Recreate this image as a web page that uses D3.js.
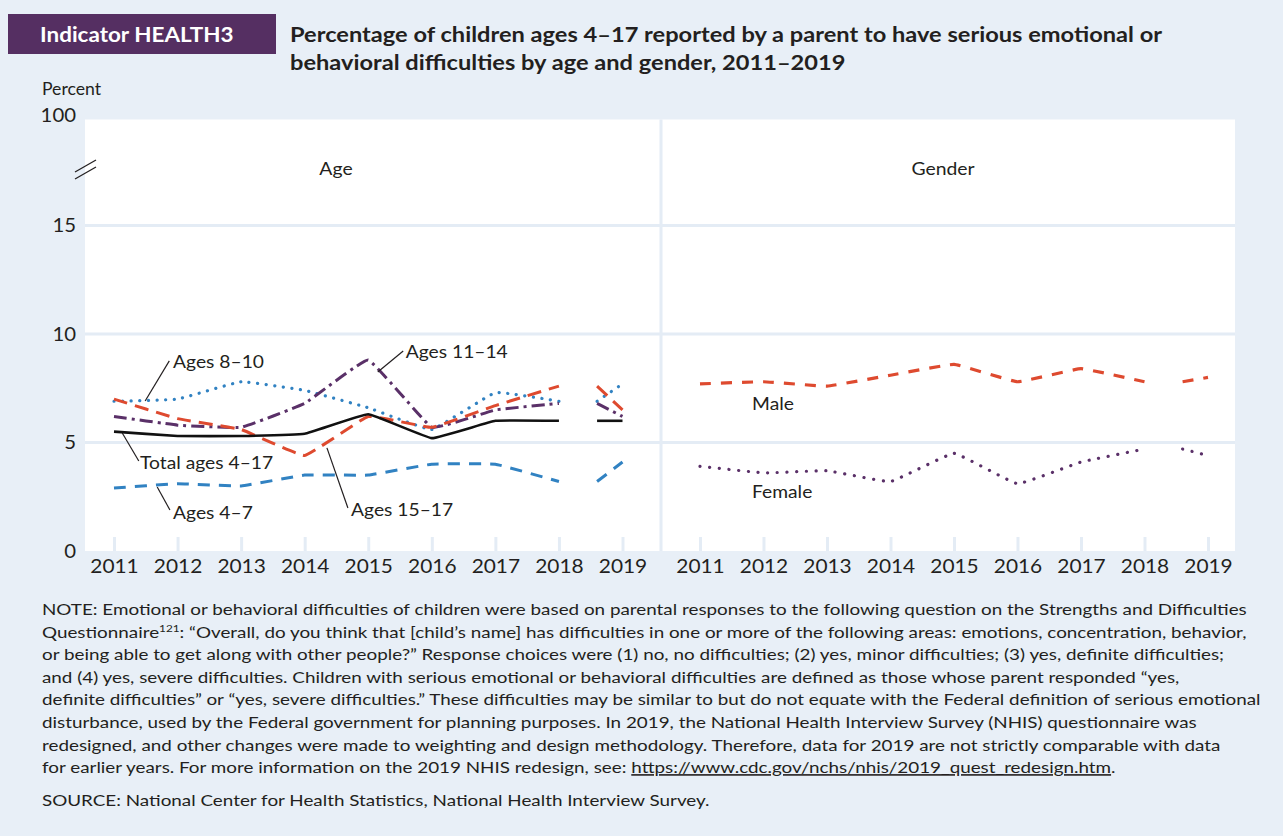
<!DOCTYPE html>
<html>
<head>
<meta charset="utf-8">
<script src="https://cdn.jsdelivr.net/npm/d3@7"></script>
<style>
  html, body { margin: 0; padding: 0; background: #e8eff7; }
  svg { display: block; font-family: Lato, "Open Sans", sans-serif; }
</style>
</head>
<body>
<svg id="chart" width="1283" height="836"></svg>
<script>
// ---------- DATA ----------
const years = [2011, 2012, 2013, 2014, 2015, 2016, 2017, 2018, 2019];
const yTicks = [0, 5, 10, 15, 100];
const gridValues = [5, 10, 15];

const totalAges4to17 = [5.5, 5.3, 5.3, 5.4, 6.3, 5.2, 6.0, 6.0, 6.0];
const ages4to7       = [2.9, 3.1, 3.0, 3.5, 3.5, 4.0, 4.0, 3.2, 4.1];
const ages8to10      = [6.9, 7.0, 7.8, 7.4, 6.6, 5.6, 7.3, 6.9, 7.7];
const ages11to14     = [6.2, 5.8, 5.7, 6.8, 8.8, 5.7, 6.5, 6.8, 6.2];
const ages15to17     = [7.0, 6.1, 5.6, 4.4, 6.2, 5.7, 6.7, 7.6, 6.5];
const male           = [7.7, 7.8, 7.6, 8.1, 8.6, 7.8, 8.4, 7.8, 8.0];
const female         = [3.9, 3.6, 3.7, 3.2, 4.5, 3.1, 4.1, 4.7, 4.4];

// year where the broken 2019 segment restarts (survey redesign gap)
const redesignBreak = 2018.6;

const noteLines = [
  "NOTE: Emotional or behavioral difficulties of children were based on parental responses to the following question on the Strengths and Difficulties",
  null, // line with superscript (built below)
  "or being able to get along with other people?\u201D Response choices were (1) no, no difficulties; (2) yes, minor difficulties; (3) yes, definite difficulties;",
  "and (4) yes, severe difficulties. Children with serious emotional or behavioral difficulties are defined as those whose parent responded \u201Cyes,",
  "definite difficulties\u201D or \u201Cyes, severe difficulties.\u201D These difficulties may be similar to but do not equate with the Federal definition of serious emotional",
  "disturbance, used by the Federal government for planning purposes. In 2019, the National Health Interview Survey (NHIS) questionnaire was",
  "redesigned, and other changes were made to weighting and design methodology. Therefore, data for 2019 are not strictly comparable with data",
  null  // line with URL
];
const sourceLine = "SOURCE: National Center for Health Statistics, National Health Interview Survey.";

// ---------- STYLE ----------
const C = {
  bg: "#e8eff7", grid: "#e4ecf5", text: "#231f20",
  red: "#de4a2f", blue: "#3182c2", purple: "#5a3068", black: "#111111",
  header: "#552f62"
};
const WIDE = 1.14;
function widen(sel, k) {
  sel.each(function () {
    const el = d3.select(this);
    const x = +el.attr("x") || 0;
    el.attr("transform", `translate(${x},0) scale(${k},1) translate(${-x},0)`);
  });
}

const svg = d3.select("#chart");
svg.append("rect").attr("width", 1283).attr("height", 836).attr("fill", C.bg);

// header
svg.append("rect").attr("x", 8).attr("y", 14).attr("width", 268).attr("height", 40).attr("fill", C.header);
svg.append("text").attr("x", 40).attr("y", 42).attr("fill", "#fff")
  .attr("font-size", 21).attr("font-weight", 700).text("Indicator HEALTH3")
  .call(widen, 1.07);
const title = svg.append("text").attr("x", 290).attr("font-size", 21).attr("font-weight", 700).attr("fill", C.text);
title.append("tspan").attr("x", 290).attr("y", 42)
  .text("Percentage of children ages 4\u201317 reported by a parent to have serious emotional or");
title.append("tspan").attr("x", 290).attr("y", 70)
  .text("behavioral difficulties by age and gender, 2011\u20132019");
title.call(widen, 1.125);

// ---------- SCALES ----------
const plotTop = 119.5, plotBottom = 551, plotLeft = 85, plotRight = 1235, sepX = 661;
const y = d3.scaleLinear().domain([0, 15, 100]).range([plotBottom, 225.5, plotTop]);
const xLeft = d3.scaleLinear().domain([2011, 2019]).range([114, 622.5]);
const xRight = d3.scaleLinear().domain([2011, 2019]).range([700, 1208]);

svg.append("rect").attr("x", plotLeft).attr("y", plotTop)
  .attr("width", plotRight - plotLeft).attr("height", plotBottom - plotTop).attr("fill", "#fff");

svg.append("g").selectAll("line").data(gridValues).join("line")
  .attr("x1", plotLeft).attr("x2", plotRight)
  .attr("y1", d => y(d)).attr("y2", d => y(d))
  .attr("stroke", C.grid).attr("stroke-width", 3);
svg.append("line").attr("x1", sepX).attr("x2", sepX).attr("y1", plotTop).attr("y2", plotBottom)
  .attr("stroke", C.grid).attr("stroke-width", 3);

// y axis
const yAxis = svg.append("g").attr("transform", `translate(76,0)`)
  .call(d3.axisLeft(y).tickValues(yTicks).tickSize(0).tickPadding(0).tickFormat(d3.format("d")));
yAxis.select(".domain").remove();
yAxis.selectAll("text").attr("font-size", 18.5).attr("fill", C.text)
  .attr("font-family", "Lato, sans-serif").attr("dy", "0.34em")
  .attr("transform", "scale(1.1,1)");
yAxis.selectAll(".tick").filter(d => d === 100).select("text").attr("dy", "0.1em");

svg.append("text").attr("x", 42).attr("y", 95).attr("font-size", 16.5).attr("fill", C.text).text("Percent")
  .call(widen, 1.07);

// axis break symbol
const brk = svg.append("g").attr("stroke", C.text).attr("stroke-width", 1.3);
brk.append("line").attr("x1", 75).attr("y1", 172).attr("x2", 96).attr("y2", 160);
brk.append("line").attr("x1", 75).attr("y1", 179).attr("x2", 96).attr("y2", 167);

// x axes
[xLeft, xRight].forEach(sc => {
  const tk = svg.append("g").attr("transform", `translate(0,${plotBottom})`)
    .call(d3.axisTop(sc).tickValues(years).tickSize(14).tickFormat(""));
  tk.select(".domain").remove();
  tk.selectAll("line").attr("stroke", C.grid).attr("stroke-width", 3);
  const lb = svg.append("g").attr("transform", `translate(0,${plotBottom})`)
    .call(d3.axisBottom(sc).tickValues(years).tickSize(0).tickPadding(9).tickFormat(d3.format("d")));
  lb.select(".domain").remove();
  lb.selectAll("text").attr("font-size", 18.5).attr("fill", C.text).attr("font-family", "Lato, sans-serif")
    .attr("transform", "scale(1.13,1)");
});

// panel titles
svg.append("text").attr("x", 336).attr("y", 175).attr("text-anchor", "middle")
  .attr("font-size", 17).attr("fill", C.text).text("Age").call(widen, WIDE);
svg.append("text").attr("x", 943).attr("y", 175).attr("text-anchor", "middle")
  .attr("font-size", 17).attr("fill", C.text).text("Gender").call(widen, WIDE);

// ---------- LINES ----------
const series = [
  { values: ages4to7,      x: xLeft,  color: C.blue,   dash: "12,9",        width: 3 },
  { values: ages8to10,     x: xLeft,  color: C.blue,   dash: "0.1,8.5",     width: 3.2, cap: "round" },
  { values: ages11to14,    x: xLeft,  color: C.purple, dash: "13,5,3,5",    width: 3, cap: "butt" },
  { values: ages15to17,    x: xLeft,  color: C.red,    dash: "14,8",        width: 3 },
  { values: totalAges4to17,x: xLeft,  color: C.black,  dash: null,          width: 2.6 },
  { values: male,          x: xRight, color: C.red,    dash: "11,10",       width: 3.2 },
  { values: female,        x: xRight, color: C.purple, dash: "0.1,9.6",     width: 3.2, cap: "round" }
];

const gLines = svg.append("g").attr("fill", "none");
series.forEach(s => {
  const pts = years.map((yr, i) => [yr, s.values[i]]);
  const main = pts.slice(0, years.length - 1);                                     // 2011–2018
  const last = [[redesignBreak, s.values[years.length - 2]], pts[pts.length - 1]];  // 2019 segment
  const line = d3.line().x(d => s.x(d[0])).y(d => y(d[1])).curve(d3.curveCardinal.tension(0.75));
  [main, last].forEach(seg => {
    const p = gLines.append("path").attr("d", line(seg))
      .attr("stroke", s.color).attr("stroke-width", s.width)
      .attr("stroke-linejoin", "round");
    if (s.dash) p.attr("stroke-dasharray", s.dash);
    if (s.cap) p.attr("stroke-linecap", s.cap);
  });
});

// ---------- LABELS ----------
const labels = [
  { text: "Ages 8\u201310",       x: xLeft,  at: [2011.93, 8.71], leader: [[2011.87, 8.76], [2011.49, 6.91]] },
  { text: "Total ages 4\u201317", x: xLeft,  at: [2011.41, 4.06], leader: [[2011.13, 5.44], [2011.39, 4.15]] },
  { text: "Ages 4\u20137",        x: xLeft,  at: [2011.93, 1.75], leader: [[2011.68, 2.95], [2011.88, 1.89]] },
  { text: "Ages 15\u201317",      x: xLeft,  at: [2014.73, 1.89], leader: [[2014.35, 4.75], [2014.68, 1.98]] },
  { text: "Ages 11\u201314",      x: xLeft,  at: [2015.59, 9.17], leader: [[2015.55, 9.22], [2015.15, 8.25]] },
  { text: "Male",               x: xRight, at: [2011.82, 6.77], leader: null },
  { text: "Female",             x: xRight, at: [2011.82, 2.72], leader: null }
];
const gLab = svg.append("g");
labels.forEach(l => {
  gLab.append("text").attr("x", l.x(l.at[0])).attr("y", y(l.at[1])).attr("dy", "0.35em")
    .attr("font-size", 17.5).attr("fill", C.text).text(l.text).call(widen, 1.1);
  if (l.leader) {
    gLab.append("line")
      .attr("x1", l.x(l.leader[0][0])).attr("y1", y(l.leader[0][1]))
      .attr("x2", l.x(l.leader[1][0])).attr("y2", y(l.leader[1][1]))
      .attr("stroke", C.text).attr("stroke-width", 1.2);
  }
});

// ---------- NOTE ----------
const noteX = 42, noteY0 = 615, noteDy = 22.6, noteWidth = 1205;
const note = svg.append("g").attr("font-size", 16).attr("fill", C.text);
noteLines.forEach((t, i) => {
  const tx = note.append("text").attr("x", noteX).attr("y", noteY0 + i * noteDy);
  if (i === 1) {
    tx.append("tspan").text("Questionnaire");
    tx.append("tspan").attr("font-size", 10).attr("dy", -6).text("121");
    tx.append("tspan").attr("dy", 6).text(": \u201COverall, do you think that [child\u2019s name] has difficulties in one or more of the following areas: emotions, concentration, behavior,");
  } else if (i === 7) {
    tx.append("tspan").text("for earlier years. For more information on the 2019 NHIS redesign, see: ");
    tx.append("tspan").attr("text-decoration", "underline").text("https://www.cdc.gov/nchs/nhis/2019_quest_redesign.htm");
    tx.append("tspan").text(".");
  } else {
    tx.text(t);
  }
});
note.append("text").attr("x", noteX).attr("y", 806).text(sourceLine);
const firstLen = note.select("text").node().getComputedTextLength();
const kNote = noteWidth / firstLen;
note.attr("transform", `translate(${noteX},0) scale(${kNote},1) translate(${-noteX},0)`);
</script>
</body>
</html>
